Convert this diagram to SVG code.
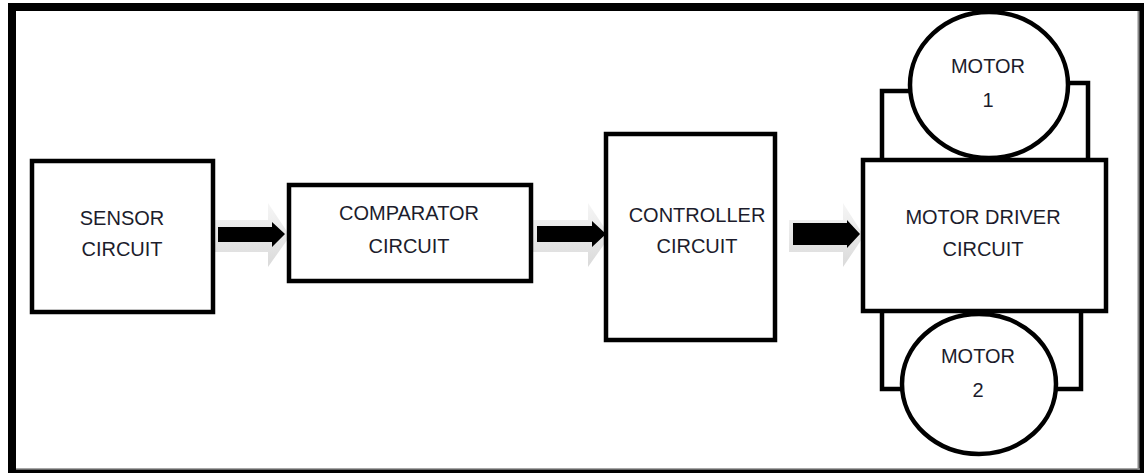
<svg xmlns="http://www.w3.org/2000/svg" width="1144" height="473" viewBox="0 0 1144 473">
<defs>
<style>
.box{fill:#fff;stroke:#000;stroke-width:4.5}
.wire{fill:none;stroke:#000;stroke-width:4.5}
.lbl{font-family:"Liberation Sans",Arial,sans-serif;font-size:20px;fill:#1c1c2c;text-anchor:middle}
.arr{fill:#000}
.sh{fill:url(#shg)}
</style>
<linearGradient id="shg" x1="0" y1="0" x2="0" y2="1">
<stop offset="0" stop-color="#f6f6f6"/>
<stop offset="1" stop-color="#dadada"/>
</linearGradient>
</defs>
<rect x="0" y="0" width="1144" height="473" fill="#fff"/>
<rect x="8" y="3" width="1136" height="470" fill="#000"/>
<rect x="16" y="11" width="1122" height="458" fill="#fff"/>
<line x1="1138.5" y1="11" x2="1138.5" y2="470" stroke="#888" stroke-width="2"/>
<line x1="16" y1="469" x2="1140" y2="469" stroke="#888" stroke-width="1.5"/>

<g id="connectors">
<g id="arrow1">
<polygon class="sh" points="214,220 268,220 268,203 290,236 268,267 268,252 214,252"/>
<polygon class="arr" points="218,227 272,227 272,222 285,234 272,247 272,242 218,242"/>
</g>
<g id="arrow2">
<polygon class="sh" points="533,220 588,220 588,203 610,236 588,267 588,252 533,252"/>
<polygon class="arr" points="537,226 592,226 592,221 606,234 592,247 592,242 537,242"/>
</g>
<g id="arrow3">
<polygon class="sh" points="789,220 843,220 843,203 864,236 843,267 843,252 789,252"/>
<polygon class="arr" points="793,223 847,223 847,220 860,234 847,248 847,245 793,245"/>
</g>
<g id="motor1-wires">
<polyline class="wire" points="882,158 882,91 912,91"/>
<polyline class="wire" points="1066,83 1088,83 1088,158"/>
</g>
<g id="motor2-wires">
<polyline class="wire" points="882,312 882,389 903,389"/>
<polyline class="wire" points="1055,389 1081,389 1081,312"/>
</g>
</g>

<g id="sensor">
<rect class="box" x="32" y="161" width="181" height="151"/>
<text class="lbl" x="122" y="225">SENSOR</text>
<text class="lbl" x="122" y="256">CIRCUIT</text>
</g>
<g id="comparator">
<rect class="box" x="289" y="185" width="242" height="96"/>
<text class="lbl" x="409" y="220">COMPARATOR</text>
<text class="lbl" x="409" y="253">CIRCUIT</text>
</g>
<g id="controller">
<rect class="box" x="606" y="134" width="169" height="206"/>
<text class="lbl" x="697" y="222">CONTROLLER</text>
<text class="lbl" x="697" y="253">CIRCUIT</text>
</g>
<g id="motor-driver">
<rect class="box" x="863" y="160" width="243" height="151"/>
<text class="lbl" x="983" y="224">MOTOR DRIVER</text>
<text class="lbl" x="983" y="256">CIRCUIT</text>
</g>
<g id="motor1">
<ellipse class="box" cx="989" cy="85" rx="79" ry="73"/>
<text class="lbl" x="988" y="73">MOTOR</text>
<text class="lbl" x="988" y="107">1</text>
</g>
<g id="motor2">
<ellipse class="box" cx="979" cy="384" rx="77" ry="70"/>
<text class="lbl" x="978" y="363">MOTOR</text>
<text class="lbl" x="978" y="397">2</text>
</g>
</svg>
